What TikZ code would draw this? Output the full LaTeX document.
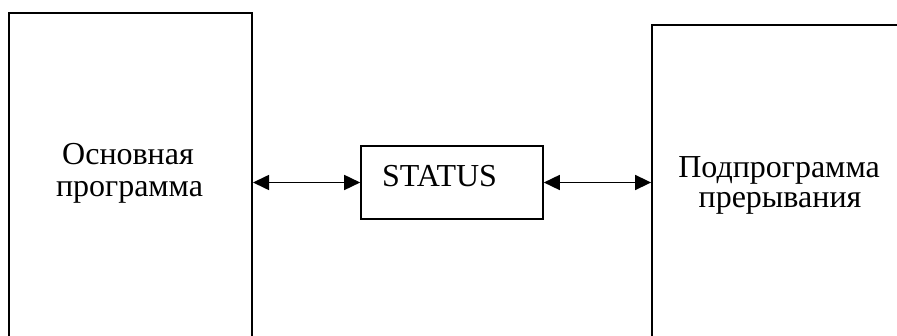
\documentclass[tikz,border=0pt]{standalone}
\usepackage{fontspec}
\setmainfont{Liberation Serif}
\usetikzlibrary{arrows.meta}
\begin{document}
\begin{tikzpicture}[x=1pt,y=-1pt,
  bigbox/.style={draw, line width=2pt, inner sep=0pt},
  stbox/.style={draw, line width=1.6pt, inner sep=0pt, minimum width=182pt, minimum height=73pt},
  lbl/.style={font=\fontsize{32}{37}\selectfont, inner sep=0pt, anchor=base},
  link/.style={line width=1.6pt, {Triangle[length=16pt,width=15pt]}-{Triangle[length=16pt,width=15pt]}}]
\useasboundingbox (0,0) rectangle (897,336);
\clip (0,0) rectangle (897,336);
\node[bigbox, minimum width=243pt, minimum height=340pt] (main) at (130.5,183) {};
\node[bigbox, line width=1.8pt, minimum width=258pt, minimum height=340pt] (sub) at (781,195) {};
\node[stbox] (status) at (452,182.5) {};
\node[lbl, anchor=base west] (stlbl) at (382,187) {STATUS};
\node[lbl] (mainA) at (128,165) {Основная};
\node[lbl] (mainB) at (129.5,197) {программа};
\node[lbl] (subA) at (779,178) {Подпрограмма};
\node[lbl] (subB) at (780,208) {прерывания};
\draw[link] (main.east |- status.west) -- (status.west);
\draw[link] (status.east) -- (sub.west |- status.east);
\end{tikzpicture}
\end{document}
